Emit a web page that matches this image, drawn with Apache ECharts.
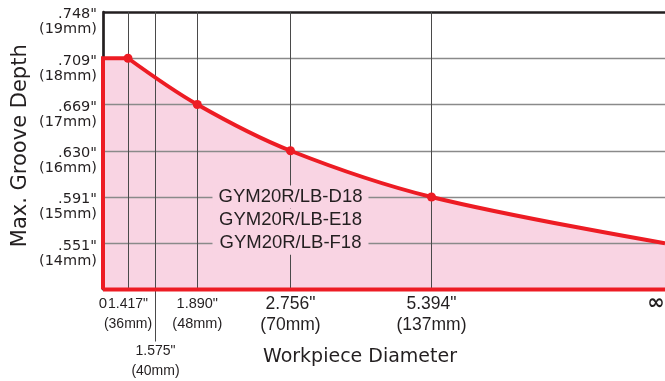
<!DOCTYPE html>
<html>
<head>
<meta charset="utf-8">
<script src="https://cdn.jsdelivr.net/npm/echarts@6/dist/echarts.min.js"></script>
<style>
  html, body { margin: 0; padding: 0; background: #fff; }
  #chart { width: 665px; height: 381px; }
</style>
</head>
<body>
<div id="chart"></div>
<script>
// Max. groove depth (mm) against workpiece diameter (mm)
const curveDiameterMm = [36, 48, 70, 137, Infinity];
const curveDepthMm = [18, 17, 16, 15, 14];
// constant depth for small workpieces
const plateauDiameterMm = [0, 36];
const plateauDepthMm = [18, 18];

// x axis ticks (diameter) and their labels
const xTickMm = [0, 36, 40, 48, 70, 137, Infinity];
const xTickInch = ['0', '1.417"', '1.575"', '1.890"', '2.756"', '5.394"', '\u221e'];
const xTickMmText = ['', '(36mm)', '(40mm)', '(48mm)', '(70mm)', '(137mm)', ''];

// y axis ticks (depth) and their labels
const yTickMm = [14, 15, 16, 17, 18, 19];
const yTickInch = ['.551"', '.591"', '.630"', '.669"', '.709"', '.748"'];

// holder models sharing the curve
const models = ['GYM20R/LB-D18', 'GYM20R/LB-E18', 'GYM20R/LB-F18'];
const modelDepthMm = [15, 14.5, 14];
const modelDiameterMm = 70;

// The diameter axis is not linear: each tick diameter sits at a fixed
// fraction (0-100) of the axis length, with linear interpolation between.
const AXIS_STOPS = [0, 4.45, 9.34, 16.78, 33.36, 58.45, 100];
function axisPos(d) {
  if (d === Infinity) return 100;
  for (let i = 0; i < xTickMm.length - 1; i++) {
    const a = xTickMm[i], b = xTickMm[i + 1];
    if (d >= a && d <= b) {
      if (b === Infinity) return AXIS_STOPS[i];
      return AXIS_STOPS[i] + (d - a) / (b - a) * (AXIS_STOPS[i + 1] - AXIS_STOPS[i]);
    }
  }
  return 100;
}

const RED = '#ed1c24';
const PINK = '#f9d4e3';
const INK = '#231f20';

const curveData = curveDiameterMm.map((d, i) => ({
  value: [axisPos(d), curveDepthMm[i]],
  symbol: d === Infinity ? 'none' : 'circle'
}));
const plateauData = plateauDiameterMm.map((d, i) => [axisPos(d), plateauDepthMm[i]]);

function xLabel(v) {
  const i = AXIS_STOPS.findIndex(s => Math.abs(s - v) < 1e-6);
  if (i < 0) return '';
  const d = xTickMm[i];
  if (d === 0) return '{zero|' + xTickInch[i] + '}';
  if (d === Infinity) return '{inf|' + xTickInch[i] + '}';
  if (d === 40) return '{gap|}\n{nar|' + xTickInch[i] + '}\n{nar|' + xTickMmText[i] + '}';
  if (d === 36) return '{nar|' + xTickInch[i] + '}\n{nar|' + xTickMmText[i] + '}';
  if (d === 48) return '{mid|' + xTickInch[i] + '}\n{mid|' + xTickMmText[i] + '}';
  return '{big|' + xTickInch[i] + '}\n{big|' + xTickMmText[i] + '}';
}

function yLabel(v) {
  const i = yTickMm.indexOf(v);
  if (i < 0) return '';
  return '{sp|}\n{y|' + yTickInch[i] + '}\n{y|(' + v + 'mm)}';
}

const xLabelRich = {
  zero: { fontFamily: 'Liberation Sans', fontSize: 15, lineHeight: 20, color: INK },
  inf: { fontFamily: 'DejaVu Sans', fontWeight: 'bold', fontSize: 21, lineHeight: 18, color: INK, padding: [2, 18, 0, 0] },
  gap: { lineHeight: 47.5, fontSize: 1 },
  nar: { fontFamily: 'Liberation Sans', fontSize: 14, lineHeight: 20, color: INK },
  mid: { fontFamily: 'Liberation Sans', fontSize: 14.5, lineHeight: 20, color: INK },
  big: { fontFamily: 'Liberation Sans', fontSize: 17.5, lineHeight: 21, color: INK }
};

// a bare diameter axis that only carries a few labels / ticks
function labelAxis(values, tick) {
  return {
    type: 'value',
    min: 0,
    max: 100,
    position: 'bottom',
    axisLine: { show: false },
    splitLine: { show: false },
    axisTick: tick || { show: false },
    axisLabel: {
      customValues: values,
      margin: 4.5,
      formatter: xLabel,
      hideOverlap: false,
      rich: xLabelRich
    }
  };
}

const mainTicks = [36, 48, 70, 137, Infinity].map(axisPos);

const xMain = labelAxis(mainTicks);
Object.assign(xMain, {
  name: 'Workpiece Diameter',
  nameLocation: 'middle',
  nameGap: 58,
  nameMoveOverlap: false,
  nameTextStyle: {
    fontFamily: 'DejaVu Sans', fontSize: 19, color: INK,
    padding: [0, 48, 0, 0]
  }
});
// origin label
const xOrigin = labelAxis([axisPos(0)]);
// 40 mm: label dropped below the others on a long tick
const xDropped = labelAxis([axisPos(40)], {
  show: true,
  customValues: [axisPos(40)],
  length: 52,
  lineStyle: { color: '#4a4a4a', width: 1 }
});

const chart = echarts.init(document.getElementById('chart'), null, { renderer: 'canvas' });

const option = {
  animation: false,
  backgroundColor: '#fff',
  grid: {
    left: 103, right: 0, top: 12, bottom: 91.5,
    containLabel: false,
    outerBoundsMode: 'none'
  },
  xAxis: [xMain, xOrigin, xDropped],
  yAxis: {
    type: 'value',
    min: 13,
    max: 19,
    interval: 1,
    name: 'Max. Groove Depth',
    nameLocation: 'middle',
    nameGap: 72,
    nameRotate: 90,
    nameMoveOverlap: false,
    nameTextStyle: {
      fontFamily: 'DejaVu Sans', fontSize: 21, color: INK,
      padding: [0, 0, 0, 10]
    },
    axisLine: { show: true, lineStyle: { color: INK, width: 2.7 } },
    axisTick: { show: false },
    splitLine: { show: false },
    axisLabel: {
      margin: 6,
      formatter: yLabel,
      rich: {
        sp: { lineHeight: 20, fontSize: 1 },
        y: { fontFamily: 'DejaVu Sans', fontSize: 14.5, lineHeight: 15, color: INK, align: 'right' }
      }
    }
  },
  series: [
    // pink region under the limit line
    {
      type: 'line', data: plateauData, z: 1, clip: false, silent: true,
      symbol: 'none', lineStyle: { width: 0 },
      areaStyle: { color: PINK, opacity: 1, origin: 'start' }
    },
    {
      type: 'line', data: curveData.map(p => p.value), smooth: 0.35, z: 1, clip: false, silent: true,
      symbol: 'none', lineStyle: { width: 0 },
      areaStyle: { color: PINK, opacity: 1, origin: 'start' }
    },
    // grid lines drawn over the fill
    {
      type: 'line', data: [[0, 13]], z: 2, silent: true, symbol: 'none',
      lineStyle: { opacity: 0 },
      markLine: {
        z: 2,
        silent: true, symbol: 'none', animation: false,
        label: { show: false },
        data: [
          ...yTickMm.filter(v => v < 19).map(v => ({ yAxis: v, lineStyle: { color: '#8a8a8a', width: 1.4, type: 'solid' } })),
          { yAxis: 19, lineStyle: { color: INK, width: 2.7, type: 'solid' } },
          ...xTickMm.filter(d => d > 0 && d !== Infinity).map(d => ({ xAxis: axisPos(d), lineStyle: { color: '#4a4a4a', width: 1, type: 'solid' } }))
        ]
      }
    },
    // red outline: left edge, plateau, bottom
    {
      type: 'line', z: 3, clip: false, silent: true, symbol: 'none',
      data: [[0, 13], ...plateauData],
      lineStyle: { color: RED, width: 4, join: 'miter' }
    },
    {
      type: 'line', z: 3, clip: false, silent: true, symbol: 'none',
      data: [[0, 13], [100, 13]],
      lineStyle: { color: RED, width: 4 }
    },
    // limit curve
    {
      type: 'line', z: 3, clip: false, silent: true,
      data: curveData, smooth: 0.35,
      symbolSize: 9, showSymbol: true,
      itemStyle: { color: RED },
      lineStyle: { color: RED, width: 4 }
    },
    // model names on pink plates that break the grid lines
    {
      type: 'scatter', z: 4, silent: true,
      symbol: 'rect', symbolSize: [156, 23],
      itemStyle: { color: PINK, opacity: 1 },
      data: models.map((m, i) => [axisPos(modelDiameterMm), modelDepthMm[i], m]),
      label: {
        show: true, position: 'inside',
        formatter: p => p.data[2],
        fontFamily: 'Liberation Sans', fontSize: 18.5, color: INK
      }
    }
  ]
};

chart.setOption(option);
</script>
</body>
</html>
